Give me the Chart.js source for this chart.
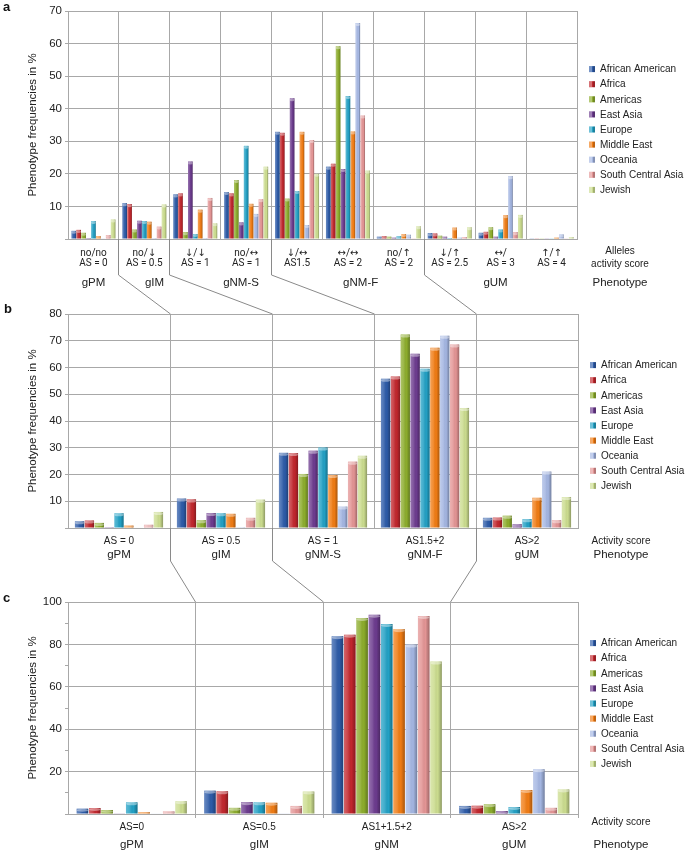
<!DOCTYPE html>
<html>
<head>
<meta charset="utf-8">
<script src="https://cdn.jsdelivr.net/npm/chart.js@4.4.1/dist/chart.umd.min.js"></script>
<style>
  html, body { margin: 0; padding: 0; background: #fff; }
  #wrap { position: relative; width: 685px; height: 852px; }
  #wrap canvas { position: absolute; left: 0; }
</style>
</head>
<body>
<div id="wrap">
  <canvas id="chart-a" width="685" height="300" style="top:0"></canvas>
  <canvas id="chart-b" width="685" height="270" style="top:300px"></canvas>
  <canvas id="chart-c" width="685" height="282" style="top:570px"></canvas>
  <canvas id="lines" width="685" height="852" style="top:0;pointer-events:none"></canvas>
</div>
<script>
const populations = ['African American', 'Africa', 'Americas', 'East Asia', 'Europe',
  'Middle East', 'Oceania', 'South Central Asia', 'Jewish'];
const colors = ['#2d5ba8', '#c1272d', '#8cac2c', '#6c3b8e', '#22a0c4',
  '#f07c14', '#a4b6e2', '#e39494', '#cbdc8e'];

// panel a : allele combinations
const allelesA = [['no/no', 'AS = 0'], ['no/↓', 'AS = 0.5'], ['↓/↓', 'AS = 1'], ['no/↔', 'AS = 1'],
  ['↓/↔', 'AS1.5'], ['↔/↔', 'AS = 2'], ['no/↑', 'AS = 2'], ['↓/↑', 'AS = 2.5'], ['↔/', 'AS = 3'], ['↑/↑', 'AS = 4']];
const valuesA = [
  [2.5, 11.0, 13.7, 14.4, 32.9, 22.2, 0.7, 1.8, 1.9, 0.2],   // African American
  [2.8, 10.7, 14.0, 14.0, 32.6, 23.1, 0.9, 1.7, 2.2, 0.2],   // Africa
  [1.9, 2.9, 2.1, 18.1, 12.4, 59.2, 0.7, 1.0, 3.6, 0.2],     // Americas
  [0.3, 5.6, 23.8, 5.1, 43.2, 21.5, 0.4, 0.7, 0.7, 0.2],     // East Asia
  [5.5, 5.5, 1.5, 28.6, 14.7, 43.9, 0.9, 0.3, 2.9, 0.2],     // Europe
  [0.9, 5.3, 9.0, 10.8, 32.9, 33.0, 1.5, 3.5, 7.3, 0.4],     // Middle East
  [0.2, 0.3, 0.3, 7.7, 4.3, 66.3, 1.3, 0.4, 19.3, 1.4],      // Oceania
  [1.2, 3.8, 12.6, 12.2, 30.4, 37.9, 0.2, 0.6, 2.1, 0.2],    // South Central Asia
  [6.0, 10.6, 4.8, 22.2, 20.0, 21.0, 3.9, 3.6, 7.4, 0.6]     // Jewish
];
const groupsA = ['gPM', 'gIM', 'gNM-S', 'gNM-F', 'gUM'];
const yTicksA = [0, 10, 20, 30, 40, 50, 60, 70];

// panel b : activity score
const scoresB = ['AS = 0', 'AS = 0.5', 'AS = 1', 'AS1.5+2', 'AS>2'];
const valuesB = [
  [2.5, 11.0, 28.1, 55.8, 3.8],
  [2.8, 10.7, 28.0, 56.6, 3.9],
  [1.9, 2.9, 20.2, 72.3, 4.6],
  [0.3, 5.6, 28.9, 65.1, 1.4],
  [5.5, 5.5, 30.1, 59.5, 3.3],
  [0.9, 5.3, 19.8, 67.4, 11.3],
  [0.2, 0.3, 8.0, 71.9, 21.1],
  [1.2, 3.8, 24.8, 68.6, 2.9],
  [6.0, 10.6, 27.0, 44.9, 11.6]
];
const groupsB = ['gPM', 'gIM', 'gNM-S', 'gNM-F', 'gUM'];
const yTicksB = [0, 10, 20, 30, 40, 50, 60, 70, 80];

// panel c : merged normal metabolizers
const scoresC = ['AS=0', 'AS=0.5', 'AS1+1.5+2', 'AS>2'];
const valuesC = [
  [2.5, 11.0, 83.9, 3.8],
  [2.8, 10.7, 84.6, 3.9],
  [1.9, 2.9, 92.5, 4.6],
  [0.3, 5.6, 94.0, 1.4],
  [5.5, 5.5, 89.6, 3.3],
  [0.9, 5.3, 87.2, 11.3],
  [0.2, 0.3, 79.9, 21.1],
  [1.2, 3.8, 93.4, 2.9],
  [6.0, 10.6, 71.9, 11.6]
];
const groupsC = ['gPM', 'gIM', 'gNM', 'gUM'];
const yTicksC = [0, 10, 20, 30, 40, 50, 60, 70, 80, 90, 100];
const yLabelsC = [20, 40, 60, 80, 100];

const FONT = '"Liberation Sans", Arial, sans-serif';
const ARROW_FONT = 'Roboto, "DejaVu Sans", sans-serif';   // Liberation's arrows are tiny
const gridGrey = '#a8a8a8';
Chart.defaults.font.family = FONT;

// cylinder-ish shading on top of every bar
const barShade = {
  id: 'barShade',
  afterDatasetsDraw(chart) {
    const ctx = chart.ctx;
    ctx.save();
    chart.data.datasets.forEach((ds, i) => {
      chart.getDatasetMeta(i).data.forEach(bar => {
        const { x, y, base, width } = bar.getProps(['x', 'y', 'base', 'width'], true);
        const l = x - width / 2, h = base - y;
        if (h <= 0.2) return;
        const g = ctx.createLinearGradient(l, 0, l + width, 0);
        g.addColorStop(0, 'rgba(255,255,255,0.28)');
        g.addColorStop(0.35, 'rgba(255,255,255,0.12)');
        g.addColorStop(0.65, 'rgba(0,0,0,0)');
        g.addColorStop(1, 'rgba(0,0,0,0.3)');
        ctx.fillStyle = g;
        ctx.fillRect(l, y, width, h);
        const ch = Math.min(3, h);
        ctx.fillStyle = 'rgba(255,255,255,0.4)';
        ctx.beginPath();
        ctx.ellipse(x, y + ch / 2, width / 2, ch / 2, 0, 0, 2 * Math.PI);
        ctx.fill();
      });
    });
    ctx.restore();
  }
};

// group names, side captions and legend
function textPlugin(cfg) {
  return {
    id: 'panelText',
    afterDraw(chart) {
      const ctx = chart.ctx, xs = chart.scales.x, area = chart.chartArea;
      const step = (xs.right - xs.left) / chart.data.labels.length;
      ctx.save();
      ctx.fillStyle = '#222';
      ctx.textAlign = 'center';
      ctx.textBaseline = 'middle';
      ctx.font = '11.5px ' + FONT;
      cfg.groups.forEach((g, i) => {
        ctx.fillText(g, xs.left + (cfg.groupAt[i] + 0.5) * step, cfg.groupY);
      });
      cfg.side.forEach(s => {
        ctx.font = s[2] + 'px ' + FONT;
        ctx.fillText(s[0], area.right + 43, s[1]);
      });
      const gap = 15.1;
      const y0 = (area.top + area.bottom) / 2 + cfg.legendShift - (populations.length - 1) * gap / 2;
      ctx.font = '10px ' + FONT;
      ctx.textAlign = 'left';
      populations.forEach((name, i) => {
        const y = y0 + i * gap, mx = area.right + 12;
        ctx.fillStyle = colors[i];
        ctx.fillRect(mx, y - 3, 6, 6);
        ctx.fillStyle = 'rgba(255,255,255,0.35)';
        ctx.fillRect(mx, y - 3, 3, 6);
        ctx.fillStyle = 'rgba(0,0,0,0.2)';
        ctx.fillRect(mx + 4, y - 3, 2, 6);
        ctx.fillStyle = '#222';
        ctx.fillText(name, area.right + 23, y + 0.5);
      });
      ctx.restore();
    }
  };
}

function makePanel(id, cfg) {
  const ctx = document.getElementById(id).getContext('2d');
  return new Chart(ctx, {
    type: 'bar',
    data: {
      labels: cfg.labels,
      datasets: populations.map((name, i) => ({
        label: name,
        data: cfg.values[i],
        backgroundColor: colors[i],
        borderWidth: 0,
        categoryPercentage: 0.87,
        barPercentage: 0.94
      }))
    },
    options: {
      responsive: false,
      animation: false,
      events: [],
      layout: { padding: { top: cfg.top, right: cfg.right, left: 0, bottom: 0 } },
      scales: {
        x: {
          afterFit: s => { s.height = cfg.axisHeight; },
          grid: {
            color: gridGrey,
            drawTicks: cfg.xTick > 0,
            tickLength: cfg.xTick,
            tickColor: c => (c.index === 0 ? 'rgba(0,0,0,0)' : gridGrey)
          },
          border: { color: gridGrey },
          ticks: {
            color: '#222',
            font: { size: 10, lineHeight: 1.0, family: cfg.tickFont || FONT },
            padding: cfg.xPad,
            maxRotation: 0,
            autoSkip: false
          }
        },
        y: {
          min: 0,
          max: cfg.yTicks[cfg.yTicks.length - 1],
          afterFit: s => { s.width = 68; },
          afterBuildTicks: s => { s.ticks = cfg.yTicks.map(v => ({ value: v })); },
          grid: {
            color: c => (c.tick && cfg.yLabels.includes(c.tick.value) ? gridGrey : 'rgba(0,0,0,0)'),
            tickColor: gridGrey,
            tickLength: 3
          },
          border: { color: gridGrey },
          ticks: {
            color: '#222',
            font: { size: 11.5 },
            padding: 3,
            callback: v => (cfg.yLabels.includes(v) ? v : '')
          },
          title: {
            display: true,
            text: 'Phenotype frequencies in %',
            color: '#222',
            font: { size: 11.5 },
            padding: { top: 26, bottom: 0 }
          }
        }
      },
      plugins: { legend: { display: false }, tooltip: { enabled: false } }
    },
    plugins: [barShade, textPlugin(cfg)]
  });
}

const chartA = makePanel('chart-a', {
  labels: allelesA, values: valuesA, yTicks: yTicksA, yLabels: yTicksA.slice(1),
  top: 11, right: 108, axisHeight: 61, xTick: 0, xPad: 9, tickFont: ARROW_FONT,
  groups: groupsA, groupAt: [0, 1.2, 2.9, 5.25, 7.9], groupY: 283, legendShift: 4.5,
  side: [['Alleles', 251, 10], ['activity score', 264, 10], ['Phenotype', 283, 11.5]]
});
const chartB = makePanel('chart-b', {
  labels: scoresB, values: valuesB, yTicks: yTicksB, yLabels: yTicksB.slice(1),
  top: 14, right: 107, axisHeight: 42, xTick: 0, xPad: 8,
  groups: groupsB, groupAt: [0, 1, 2, 3, 4], groupY: 255, legendShift: 4.5,
  side: [['Activity score', 241, 10], ['Phenotype', 255, 11.5]]
});
const chartC = makePanel('chart-c', {
  labels: scoresC, values: valuesC, yTicks: yTicksC, yLabels: yLabelsC,
  top: 32, right: 107, axisHeight: 38, xTick: 4, xPad: 4,
  groups: groupsC, groupAt: [0, 1, 2, 3], groupY: 275, legendShift: -4.5,
  side: [['Activity score', 252, 10], ['Phenotype', 275, 11.5]]
});

// connector lines between the panels, taken from the category boundaries
const linkAB = [[1, 1], [2, 2], [4, 3], [7, 4]];
const linkBC = [[1, 1], [2, 2], [4, 3]];

const lctx = document.getElementById('lines').getContext('2d');
const px = v => Math.round(v - 0.5) + 0.5;

function connect(upper, upperTop, lower, lowerTop, pairs, bendY) {
  const ux = upper.scales.x, lx = lower.scales.x;
  const un = upper.data.labels.length, ln = lower.data.labels.length;
  lctx.save();
  lctx.strokeStyle = '#8a8a8a';
  lctx.lineWidth = 1;
  pairs.forEach(([ui, li]) => {
    const x1 = px(ux.left + ui * (ux.right - ux.left) / un);
    const x2 = px(lx.left + li * (lx.right - lx.left) / ln);
    lctx.beginPath();
    lctx.moveTo(x1, upperTop + upper.chartArea.bottom);
    lctx.lineTo(x1, bendY);
    lctx.lineTo(x2, lowerTop + lower.chartArea.top);
    lctx.stroke();
  });
  lctx.restore();
}

connect(chartA, 0, chartB, 300, linkAB, 275);
connect(chartB, 300, chartC, 570, linkBC, 561);

lctx.fillStyle = '#111';
lctx.font = 'bold 13px ' + FONT;
lctx.textBaseline = 'middle';
lctx.fillText('a', 3, 7);
lctx.fillText('b', 4, 309);
lctx.fillText('c', 3, 598);
</script>
</body>
</html>
